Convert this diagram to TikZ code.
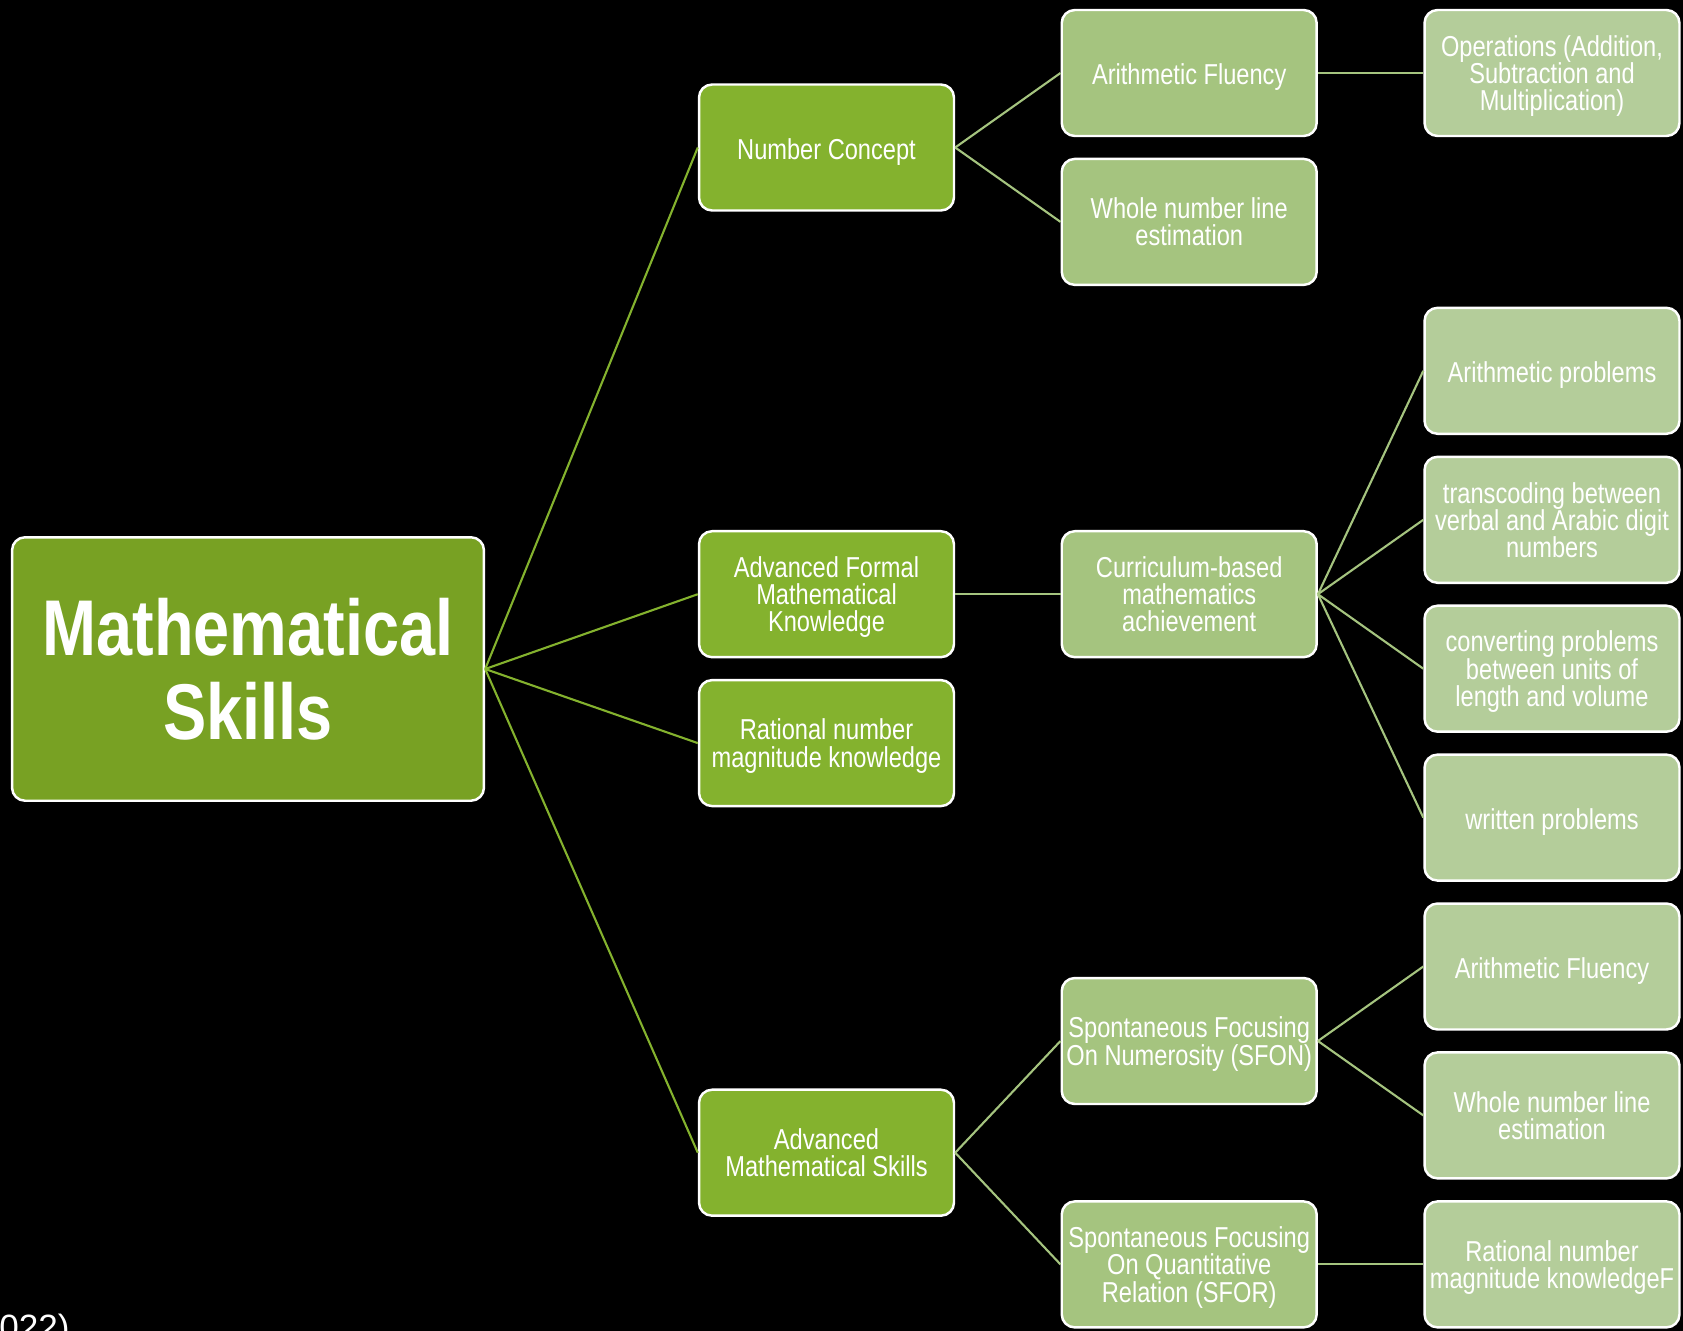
\documentclass[tikz,border=0pt]{standalone}
\usepackage{fontspec}
\setmainfont[FakeStretch=0.82]{Liberation Sans}
\newfontfamily\plainfont{Liberation Sans}
\usetikzlibrary{positioning}

\definecolor{rootgreen}{RGB}{120,161,35}
\definecolor{midgreen}{RGB}{132,178,46}
\definecolor{palegreen}{RGB}{165,196,127}
\definecolor{lightgreen}{RGB}{180,205,154}

\begin{document}
\begin{tikzpicture}[x=0.02cm,y=-0.02cm,
 box/.style={draw=white,line width=1.4pt,rounded corners=0.26cm,text=white,align=center,
  minimum width=5.1cm,minimum height=2.52cm,inner sep=0pt,font=\fontsize{16.4}{15.5}\selectfont},
 boxtext/.style={execute at begin node={\rule{0pt}{13.4pt}},text depth=0pt},
 rootbox/.style={box,fill=rootgreen,minimum width=9.44cm,minimum height=5.27cm,
  font=\fontsize{45}{48}\selectfont\bfseries},
 lvlone/.style={box,boxtext,fill=midgreen},
 lvltwo/.style={box,boxtext,fill=palegreen},
 lvlthree/.style={box,boxtext,fill=lightgreen},
 rootlink/.style={midgreen,line width=1.2pt},
 sublink/.style={palegreen,line width=1.2pt}]
 \fill[black] (0,0) rectangle (1683,1331);
 \useasboundingbox (0,0) rectangle (1683,1331);

 \node[rootbox] (root) at (248,669) {Mathematical\\Skills};

 \node[lvlone] (numconcept) at (826.5,147.5) {Number Concept};
 \node[lvlone] (formal) at (826.5,594.2) {Advanced Formal\\Mathematical\\Knowledge};
 \node[lvlone] (rational) at (826.5,743.1) {Rational number\\magnitude knowledge};
 \node[lvlone] (advskills) at (826.5,1152.7) {Advanced\\Mathematical Skills};

 \node[lvltwo] (fluency) at (1189.2,73) {Arithmetic Fluency};
 \node[lvltwo] (estimation) at (1189.2,221.9) {Whole number line\\estimation};
 \node[lvltwo] (curriculum) at (1189.2,594.2) {Curriculum-based\\mathematics\\achievement};
 \node[lvltwo] (sfon) at (1189.2,1041) {Spontaneous Focusing\\On Numerosity (SFON)};
 \node[lvltwo] (sfor) at (1189.2,1264.4) {Spontaneous Focusing\\On Quantitative\\Relation (SFOR)};

 \node[lvlthree] (operations) at (1552,73) {Operations (Addition,\\Subtraction and\\Multiplication)};
 \node[lvlthree] (arithprob) at (1552,370.8) {Arithmetic problems};
 \node[lvlthree] (transcoding) at (1552,519.8) {transcoding between\\verbal and Arabic digit\\numbers};
 \node[lvlthree] (converting) at (1552,668.7) {converting problems\\between units of\\length and volume};
 \node[lvlthree] (written) at (1552,817.6) {written problems};
 \node[lvlthree] (fluencyb) at (1552,966.5) {Arithmetic Fluency};
 \node[lvlthree] (estimationb) at (1552,1115.4) {Whole number line\\estimation};
 \node[lvlthree] (rationalb) at (1552,1264.4) {Rational number\\magnitude knowledgeF};

 \node[anchor=north east,inner sep=0pt,text=white,font=\fontsize{20}{24}\selectfont\plainfont]
  (cite) at (70,1314) {022)};

 \draw[rootlink] (root.east) -- (numconcept.west);
 \draw[rootlink] (root.east) -- (formal.west);
 \draw[rootlink] (root.east) -- (rational.west);
 \draw[rootlink] (root.east) -- (advskills.west);

 \draw[sublink] (numconcept.east) -- (fluency.west);
 \draw[sublink] (numconcept.east) -- (estimation.west);
 \draw[sublink] (formal.east) -- (curriculum.west);
 \draw[sublink] (advskills.east) -- (sfon.west);
 \draw[sublink] (advskills.east) -- (sfor.west);

 \draw[sublink] (fluency.east) -- (operations.west);
 \draw[sublink] (curriculum.east) -- (arithprob.west);
 \draw[sublink] (curriculum.east) -- (transcoding.west);
 \draw[sublink] (curriculum.east) -- (converting.west);
 \draw[sublink] (curriculum.east) -- (written.west);
 \draw[sublink] (sfon.east) -- (fluencyb.west);
 \draw[sublink] (sfon.east) -- (estimationb.west);
 \draw[sublink] (sfor.east) -- (rationalb.west);
\end{tikzpicture}
\end{document}
